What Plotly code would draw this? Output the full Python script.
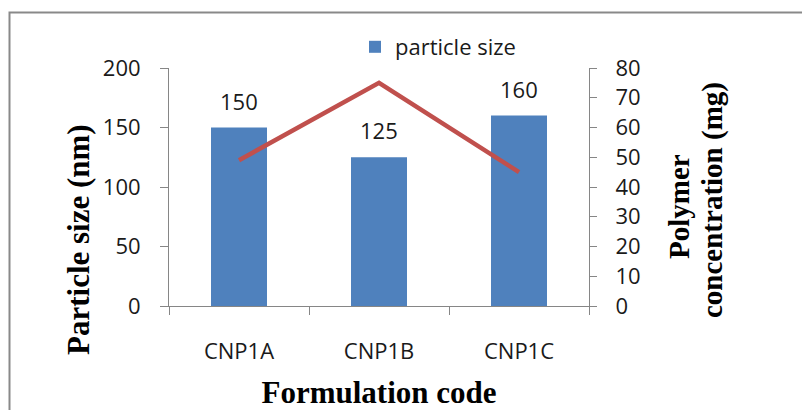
import plotly.graph_objects as go

categories = ["CNP1A", "CNP1B", "CNP1C"]
particle_size = [150, 125, 160]
polymer_conc = [49, 75, 45]
left_ticks = [0, 50, 100, 150, 200]
right_ticks = [0, 10, 20, 30, 40, 50, 60, 70, 80]

W, H = 802, 410
L, R, T, B = 169, 213, 68, 104
pw, ph = W - L - R, H - T - B

def px(x):
    return (x - L) / pw

def py(y):
    return (H - B - y) / ph

AX = "#868686"
TICKFONT = dict(family="Open Sans", size=22, color="#1a1a1a")
TITLEFONT = dict(family="Liberation Serif", size=31, color="#000000")

fig = go.Figure()
fig.add_trace(go.Bar(
    x=categories, y=particle_size, name="particle size",
    marker=dict(color="#4F81BD", line=dict(width=0)), width=0.4,
))
fig.add_trace(go.Scatter(
    x=categories, y=polymer_conc, yaxis="y2", mode="lines",
    line=dict(color="#C0504D", width=4.5), showlegend=False,
    name="polymer concentration",
))

annotations = []
for c, v in zip(categories, particle_size):
    annotations.append(dict(
        x=c, y=v, xref="x", yref="y", text=str(v), showarrow=False,
        yanchor="middle", yshift=27, font=TICKFONT,
    ))

annotations.append(dict(
    x=px(78), y=py(240), xref="paper", yref="paper",
    text="<b>Particle size (nm)</b>", textangle=-90, showarrow=False,
    xanchor="center", yanchor="middle", font=TITLEFONT,
))
annotations.append(dict(
    x=px(679), y=py(207), xref="paper", yref="paper",
    text="<b>Polymer</b>", textangle=-90, showarrow=False,
    xanchor="center", yanchor="middle", font=dict(TITLEFONT, size=29),
))
annotations.append(dict(
    x=px(712), y=py(200), xref="paper", yref="paper",
    text="<b>concentration (mg)</b>", textangle=-90, showarrow=False,
    xanchor="center", yanchor="middle", font=dict(TITLEFONT, size=29),
))

fig.update_layout(
    width=W, height=H,
    margin=dict(l=L, r=R, t=T, b=B, pad=0, autoexpand=False),
    paper_bgcolor="white", plot_bgcolor="white",
    bargap=0.6,
    showlegend=True,
    legend=dict(
        x=px(355), y=py(47), xanchor="left", yanchor="middle",
        orientation="h", font=TICKFONT, bgcolor="rgba(0,0,0,0)",
        itemwidth=30,
    ),
    xaxis=dict(
        type="category", tickson="boundaries", ticks="outside", ticklen=8,
        tickcolor=AX, showline=True, linecolor=AX, linewidth=1,
        showgrid=False, tickfont=TICKFONT, ticklabelstandoff=26,
        automargin=False,
        title=dict(text="<b>Formulation code</b>", font=TITLEFONT, standoff=18),
    ),
    yaxis=dict(
        range=[0, 200], tickvals=left_ticks, ticks="outside", ticklen=8,
        tickcolor=AX, showline=True, linecolor=AX, linewidth=1,
        showgrid=False, zeroline=False, tickfont=TICKFONT,
        ticklabelstandoff=15, automargin=False,
    ),
    yaxis2=dict(
        range=[0, 80], tickvals=right_ticks, overlaying="y", side="right",
        ticks="outside", ticklen=7, tickcolor=AX, showline=True,
        linecolor=AX, linewidth=1, showgrid=False, zeroline=False,
        tickfont=TICKFONT, ticklabelstandoff=14, automargin=False,
    ),
    annotations=annotations,
    shapes=[dict(
        type="rect", xref="paper", yref="paper",
        x0=px(9.5), x1=px(812), y0=py(425), y1=py(12.5),
        line=dict(color="#898989", width=2), fillcolor="rgba(0,0,0,0)",
        layer="below",
    )],
)

fig.write_html("out.html")
